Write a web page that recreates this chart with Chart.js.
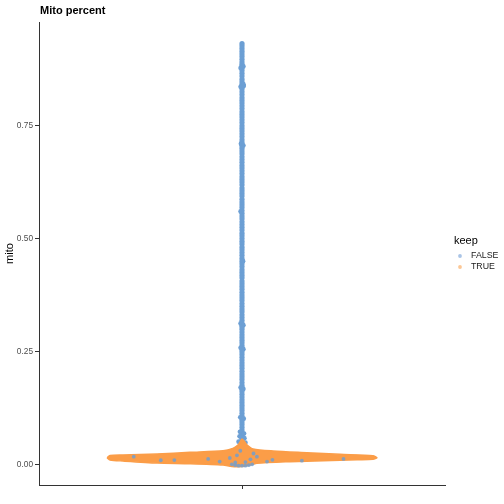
<!DOCTYPE html>
<html>
<head>
<meta charset="utf-8">
<script src="https://cdn.jsdelivr.net/npm/chart.js@4/dist/chart.umd.min.js"></script>
<style>
  body { margin: 0; background: #fff; }
  canvas { display: block; }
</style>
</head>
<body>
<canvas id="mitoChart" width="504" height="504"></canvas>
<script>
const chartTitle = 'Mito percent';
const legendTitle = 'keep';
const groups = ['FALSE', 'TRUE'];
const yTicks = [0, 0.25, 0.5, 0.75];

// FALSE cells along the centre of the violin (offset 0)
const falseColumnMito = [
  0.932, 0.927, 0.921, 0.915, 0.909, 0.903, 0.897, 0.891, 0.886, 0.882, 0.878, 0.872,
  0.866, 0.860, 0.853, 0.847, 0.842, 0.838, 0.835, 0.831, 0.825, 0.819, 0.812, 0.806,
  0.800, 0.794, 0.788, 0.781, 0.775, 0.769, 0.763, 0.757, 0.750, 0.744, 0.738, 0.732,
  0.726, 0.719, 0.713, 0.709, 0.705, 0.700, 0.694, 0.688, 0.681, 0.675, 0.669, 0.662,
  0.656, 0.650, 0.644, 0.637, 0.631, 0.625, 0.619, 0.612, 0.606, 0.600, 0.594, 0.587,
  0.581, 0.575, 0.569, 0.562, 0.556, 0.550, 0.544, 0.537, 0.531, 0.525, 0.519, 0.512,
  0.506, 0.500, 0.494, 0.488, 0.481, 0.475, 0.469, 0.463, 0.456, 0.450, 0.444, 0.438,
  0.431, 0.425, 0.419, 0.413, 0.406, 0.400, 0.394, 0.388, 0.381, 0.375, 0.369, 0.363,
  0.356, 0.350, 0.344, 0.338, 0.331, 0.325, 0.319, 0.313, 0.308, 0.304, 0.299, 0.293,
  0.287, 0.281, 0.275, 0.269, 0.263, 0.258, 0.254, 0.249, 0.243, 0.237, 0.231, 0.225,
  0.219, 0.213, 0.206, 0.200, 0.194, 0.188, 0.181, 0.175, 0.170, 0.166, 0.161, 0.155,
  0.149, 0.143, 0.137, 0.131, 0.125, 0.119, 0.113, 0.107, 0.103, 0.099, 0.094, 0.088,
  0.082, 0.076, 0.071, 0.067, 0.063, 0.059, 0.055, 0.051, 0.047, 0.043
];

// FALSE cells pushed slightly sideways (bulges of the column)
const falseSideX = [
  0.004, -0.004, 0.004, -0.004, 0.005, -0.003, 0.004, -0.004, 0.003, -0.004, 0.004, -0.004,
  0.004, -0.004, 0.004, -0.005, 0.005, -0.006, 0.006, -0.007, 0.007, -0.010, 0.010
];
const falseSideMito = [
  0.881, 0.878, 0.842, 0.836, 0.838, 0.710, 0.706, 0.560, 0.450, 0.312, 0.308, 0.258,
  0.255, 0.170, 0.167, 0.104, 0.101, 0.072, 0.068, 0.062, 0.058, 0.050, 0.048
];

// FALSE cells sitting inside the TRUE band
const falseLowX = [
  -0.320, -0.200, -0.036, -0.015, -0.066, 0.044, 0.177, 0.025, -0.030, -0.020, -0.010, 0.000,
  0.010, 0.020, 0.030, -0.020, 0.010, 0.074, -0.100, 0.300, -0.240, 0.034, -0.005, 0.090
];
const falseLowMito = [
  0.017, 0.0095, 0.014, 0.020, 0.006, 0.017, 0.008, 0.011, 0.000, -0.002, -0.003, -0.003,
  -0.003, -0.002, 0.000, 0.004, 0.005, 0.006, 0.012, 0.012, 0.009, 0.024, 0.030, 0.010
];

// outline of the TRUE cells (upper edge left to right, lower edge right to left)
const trueEdgeX = [
  -0.399, -0.390, -0.352, -0.251, -0.154, -0.056, -0.027, -0.012, -0.006, 0.000, 0.009, 0.015,
  0.033, 0.092, 0.192, 0.290, 0.387, 0.399,
  0.387, 0.340, 0.240, 0.142, 0.044, 0.018, 0.000, -0.030, -0.056, -0.154, -0.251, -0.352, -0.390, -0.399
];
const trueEdgeMito = [
  0.0146, 0.0195, 0.0206, 0.0228, 0.0266, 0.0301, 0.0354, 0.0427, 0.049, 0.056, 0.049, 0.0427,
  0.0339, 0.0295, 0.0257, 0.0221, 0.019, 0.0146,
  0.011, 0.0102, 0.008, 0.0058, 0.0022, -0.0027, -0.0049, -0.0049, -0.0016, 0.0013, 0.0029, 0.0073, 0.0095, 0.0146
];

const blue = '#6c9fd4';
const blueSoft = 'rgba(108, 159, 212, 0.8)';
const orange = '#fb9d48';
const legendColors = ['#a9c4e6', '#fcc795'];
const fontFamily = '"Liberation Sans", Arial, Helvetica, sans-serif';

const pairs = (xs, ys) => xs.map((x, i) => ({ x: x, y: ys[i] }));

const titleLegendPlugin = {
  id: 'titleLegend',
  afterDraw(chart) {
    const ctx = chart.ctx;
    const area = chart.chartArea;
    ctx.save();
    ctx.fillStyle = '#000';
    ctx.font = 'bold 11px ' + fontFamily;
    ctx.textBaseline = 'alphabetic';
    ctx.fillText(chartTitle, area.left + 1, 14);

    ctx.font = '11px ' + fontFamily;
    ctx.textBaseline = 'middle';
    ctx.fillText(legendTitle, 454, 241);
    ctx.font = '8.8px ' + fontFamily;
    groups.forEach((g, i) => {
      const y = 256 + i * 11;
      ctx.fillStyle = legendColors[i];
      ctx.beginPath();
      ctx.arc(460, y, 1.9, 0, Math.PI * 2);
      ctx.fill();
      ctx.fillStyle = '#1a1a1a';
      ctx.fillText(g, 471, y);
    });
    ctx.restore();
  }
};

const ctx = document.getElementById('mitoChart').getContext('2d');
new Chart(ctx, {
  type: 'scatter',
  data: {
    datasets: [
      {
        label: 'FALSE low',
        data: pairs(falseLowX, falseLowMito),
        backgroundColor: blueSoft,
        pointRadius: 1.9,
        pointBorderWidth: 0
      },
      {
        label: 'TRUE',
        data: pairs(trueEdgeX, trueEdgeMito),
        showLine: true,
        fill: 'shape',
        tension: 0.25,
        borderColor: orange,
        borderWidth: 1.5,
        backgroundColor: orange,
        pointRadius: 0
      },
      {
        label: 'FALSE side',
        data: pairs(falseSideX, falseSideMito),
        backgroundColor: blue,
        pointRadius: 2.4,
        pointBorderWidth: 0
      },
      {
        label: 'FALSE',
        data: falseColumnMito.map(v => ({ x: 0, y: v })),
        backgroundColor: blue,
        pointRadius: 2.6,
        pointBorderWidth: 0
      }
    ]
  },
  options: {
    responsive: false,
    animation: false,
    events: [],
    layout: { padding: { left: 0, top: 22, right: 59, bottom: 0 } },
    plugins: {
      legend: { display: false },
      tooltip: { enabled: false }
    },
    scales: {
      x: {
        type: 'linear',
        min: -0.6,
        max: 0.6,
        afterBuildTicks: s => { s.ticks = [{ value: 0 }]; },
        afterFit: s => { s.height = 19; },
        ticks: { callback: () => '' },
        grid: { drawOnChartArea: false, tickLength: 4, color: '#333' },
        border: { display: true, color: '#333', width: 1 }
      },
      y: {
        min: -0.0458,
        max: 0.9796,
        afterBuildTicks: s => { s.ticks = yTicks.map(v => ({ value: v })); },
        afterFit: s => { s.width = 39; },
        ticks: {
          callback: v => v.toFixed(2),
          color: '#4d4d4d',
          font: { family: fontFamily, size: 8.3 },
          padding: 2
        },
        grid: { drawOnChartArea: false, tickLength: 4, color: '#333' },
        border: { display: true, color: '#333', width: 1 },
        title: {
          display: true,
          text: 'mito',
          color: '#000',
          font: { family: fontFamily, size: 11 },
          padding: { top: 3, bottom: 0 }
        }
      }
    }
  },
  plugins: [titleLegendPlugin]
});
</script>
</body>
</html>
